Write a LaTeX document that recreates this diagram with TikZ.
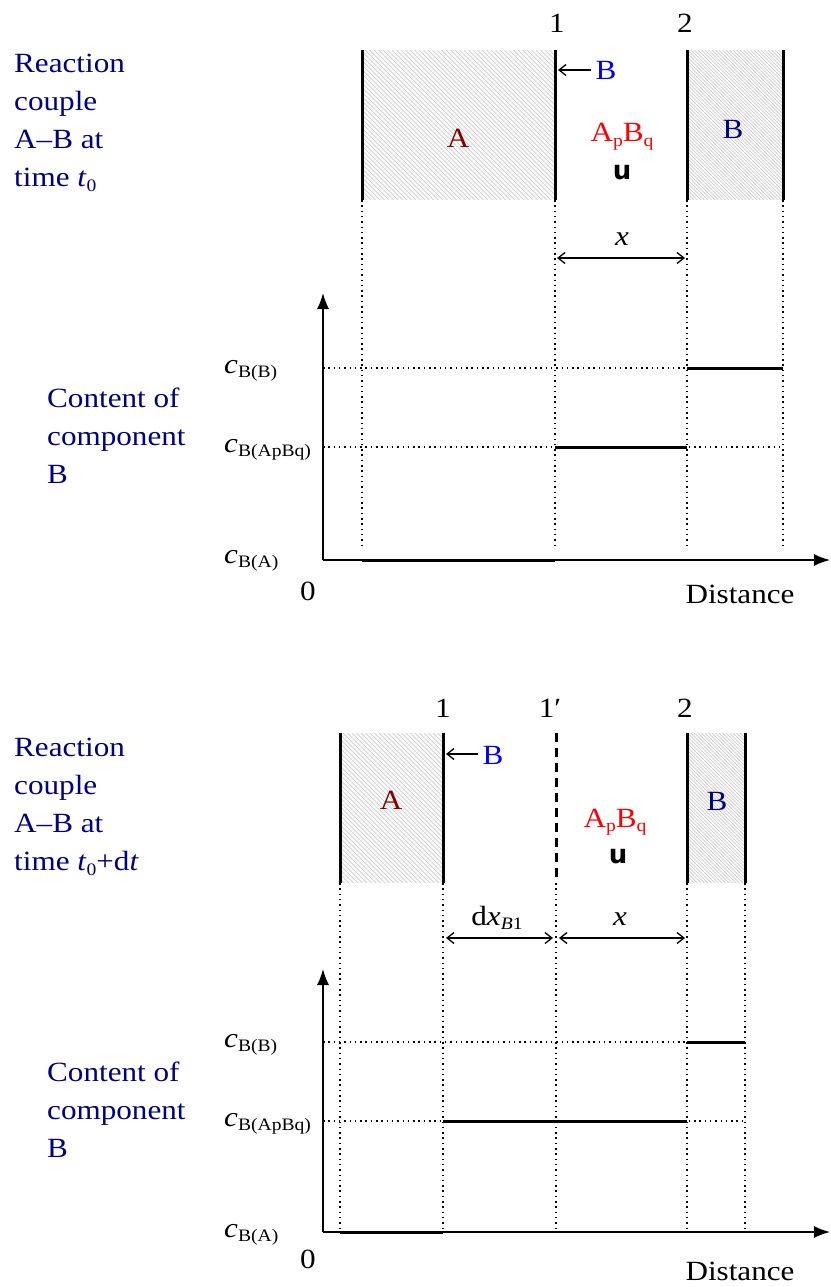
\documentclass[tikz,border=0pt]{standalone}
\usepackage{fontspec}
\setmainfont{Liberation Serif}
\newfontfamily\symfont{DejaVu Sans}
\usetikzlibrary{arrows.meta, positioning}
\definecolor{cnavy}{HTML}{000080}
\definecolor{cmaroon}{HTML}{800000}
\definecolor{cred}{HTML}{FF0000}
\definecolor{cblue}{HTML}{0000FF}
\newcommand{\lowtext}[1]{\raisebox{-4.5pt}{\fontsize{17.5}{17.5}\selectfont #1}}
\newcommand{\wallhatch}[5]{%
  \begin{scope}
    \clip (#1,#2) rectangle (#3,#4);
    \fill[hatchbg] (#1,#2) rectangle (#3,#4);
    \foreach \h in {0,#5,...,360} \draw[hatch] (#1-150+\h,#2) -- ++(150,150);
  \end{scope}}
\tikzset{
  txt/.style={font=\fontsize{27.8}{38}\selectfont, inner sep=0pt, xscale=1.12},
  lbl/.style={txt, anchor=base},
  note/.style={txt, anchor=base west, align=left, text=cnavy},
  clabel/.style={txt, anchor=base west},
  wall/.style={line width=3pt},
  plateau/.style={line width=3pt},
  guide/.style={line width=1.5pt, dash pattern=on 1.5pt off 3.8pt},
  axisline/.style={line width=1.5pt, -{Latex[length=16pt, width=12pt]}},
  dim/.style={line width=1.3pt, {Straight Barb[length=7pt, width=11pt]}-{Straight Barb[length=7pt, width=11pt]}},
  push/.style={line width=1.3pt, -{Straight Barb[length=7pt, width=11pt]}},
  hatchbg/.style={fill=gray!4},
  hatch/.style={draw=gray!42, line width=0.5pt},
  umark/.style={font=\symfont\bfseries\fontsize{26}{26}\selectfont, inner sep=0pt, anchor=base},
}
\begin{document}
\begin{tikzpicture}[x=1pt, y=-1pt]
  \useasboundingbox (0,0) rectangle (830,1287);

  % ---- reaction couple at time t0 ----
  \node[note] (rc1) at (14,186.7) {Reaction\\couple\\A--B at\\time \textit{t}\lowtext{0}};
  \node[lbl] (n1a) at (557,33) {1};
  \node[lbl] (n2a) at (685,33) {2};

  \wallhatch{362}{50}{555}{200}{4.5}
  \wallhatch{687}{50}{783}{200}{3.5}
  \draw[wall] (362,50) -- (362,200);
  \draw[wall] (555,50) -- (555,200);
  \draw[wall] (687,50) -- (687,200);
  \draw[wall] (783,50) -- (783,200);

  \node[lbl, text=cmaroon] (pa1) at (458,147) {A};
  \node[lbl, text=cred] (pab1) at (622,142) {A\lowtext{p}B\lowtext{q}};
  \node[umark] (u1) at (622,179) {u};
  \node[lbl, text=cnavy] (pb1) at (733,139) {B};

  \coordinate (w1) at (558,70);
  \node[txt, anchor=base west, inner xsep=4pt, text=cblue] (bin1) at (591,80) {B};
  \draw[push] (bin1.west |- w1) -- (w1);

  \foreach \gx in {362,555,687,783} \draw[guide] (\gx,200) -- (\gx,549);
  \coordinate (xl1) at (557,258);
  \coordinate (xr1) at (685,258);
  \draw[dim] (xl1) -- (xr1);
  \node[lbl] (xlab1) at (622,245) {\textit{x}};

  % ---- content profile at t0 ----
  \coordinate (o1) at (323,560);
  \draw[axisline] (o1) -- (323,293);
  \draw[axisline] (o1) -- (830,560);
  \node[lbl] (zero1) at (308,600) {0};
  \node[lbl] (dist1) at (740,603) {Distance};
  \node[note] (cc1) at (47,483) {Content of\\component\\B};

  \node[clabel] (cbb1) at (224,373) {\textit{c}\lowtext{B(B)}};
  \node[clabel] (cbp1) at (224,452) {\textit{c}\lowtext{B(ApBq)}};
  \node[clabel] (cba1) at (224,563) {\textit{c}\lowtext{B(A)}};
  \draw[guide] (323,368) -- (783,368);
  \draw[guide] (323,447) -- (783,447);
  \draw[plateau] (687,368) -- (783,368);
  \draw[plateau] (555,447) -- (687,447);
  \draw[plateau] (362,560) -- (555,560);

  % ---- reaction couple at time t0+dt ----
  \node[note] (rc2) at (14,870.7) {Reaction\\couple\\A--B at\\time \textit{t}\lowtext{0}+d\textit{t}};
  \node[lbl] (n1b) at (443,717) {1};
  \node[lbl] (n1c) at (550,717) {1′};
  \node[lbl] (n2b) at (685,717) {2};

  \wallhatch{340}{733}{443}{883}{4.5}
  \wallhatch{687}{733}{745}{883}{3.5}
  \draw[wall] (340,733) -- (340,883);
  \draw[wall] (443,733) -- (443,883);
  \draw[wall, dash pattern=on 9pt off 6pt] (556,733) -- (556,883);
  \draw[wall] (687,733) -- (687,883);
  \draw[wall] (745,733) -- (745,883);

  \node[lbl, text=cmaroon] (pa2) at (391,809) {A};
  \node[lbl, text=cred] (pab2) at (615,827) {A\lowtext{p}B\lowtext{q}};
  \node[umark] (u2) at (618,863) {u};
  \node[lbl, text=cnavy] (pb2) at (717,810) {B};

  \coordinate (w2) at (446,754);
  \node[txt, anchor=base west, inner xsep=4pt, text=cblue] (bin2) at (478,764) {B};
  \draw[push] (bin2.west |- w2) -- (w2);

  \foreach \gx in {340,443,556,687,745} \draw[guide] (\gx,883) -- (\gx,1229);
  \coordinate (dl2) at (446,938);
  \coordinate (dr2) at (553,938);
  \coordinate (xl2) at (559,938);
  \coordinate (xr2) at (685,938);
  \draw[dim] (dl2) -- (dr2);
  \draw[dim] (xl2) -- (xr2);
  \node[lbl] (dlab2) at (497,925) {d\textit{x}\lowtext{\textit{B}1}};
  \node[lbl] (xlab2) at (620,925) {\textit{x}};

  % ---- content profile at t0+dt ----
  \coordinate (o2) at (323,1232);
  \draw[axisline] (o2) -- (323,969);
  \draw[axisline] (o2) -- (830,1232);
  \node[lbl] (zero2) at (308,1268) {0};
  \node[lbl] (dist2) at (740,1280) {Distance};
  \node[note] (cc2) at (47,1157) {Content of\\component\\B};

  \node[clabel] (cbb2) at (224,1047) {\textit{c}\lowtext{B(B)}};
  \node[clabel] (cbp2) at (224,1126) {\textit{c}\lowtext{B(ApBq)}};
  \node[clabel] (cba2) at (224,1237) {\textit{c}\lowtext{B(A)}};
  \draw[guide] (323,1042) -- (745,1042);
  \draw[guide] (323,1121) -- (745,1121);
  \draw[plateau] (687,1042) -- (745,1042);
  \draw[plateau] (443,1121) -- (687,1121);
  \draw[plateau] (340,1232) -- (443,1232);
\end{tikzpicture}
\end{document}
